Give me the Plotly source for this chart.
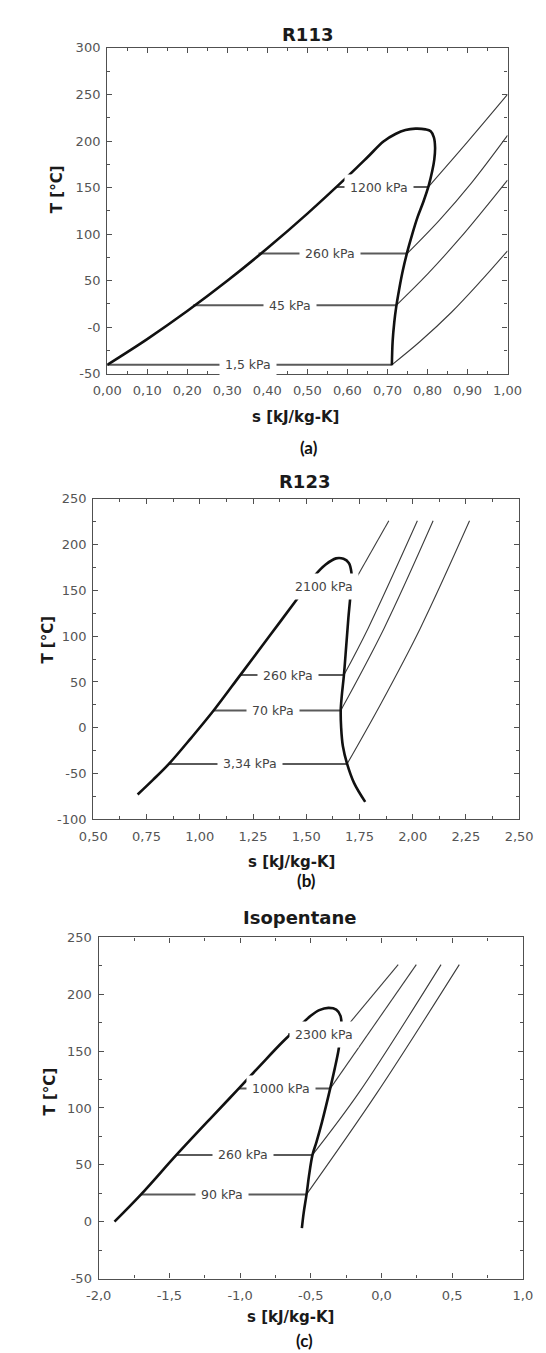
import plotly.graph_objects as go

# ---------------- DATA ----------------
# (a) R113 saturation dome (liquid line, top, vapour line)
dome_s_a = [0.000, 0.100, 0.200, 0.300, 0.400, 0.500, 0.600, 0.650, 0.690, 0.720, 0.745, 0.770,
            0.795, 0.808, 0.816, 0.819, 0.817, 0.812, 0.803, 0.790, 0.775, 0.762, 0.749, 0.738,
            0.729, 0.722, 0.717, 0.713, 0.711]
dome_T_a = [-40.5, -12.8, 17.3, 49.8, 84.7, 122.0, 161.7, 182.5, 199.5, 207.5, 211.8, 213.3,
            212.5, 210.5, 204, 193, 180, 168, 152, 135, 118, 100, 80, 60,
            40, 22, 5, -15, -41]
iso_lab_a = ["1,5 kPa", "45 kPa", "260 kPa", "1200 kPa"]
iso_T_a = [-40.5, 23.5, 79, 150.5]
iso_sliq_a = [0.000, 0.215, 0.378, 0.573]
iso_svap_a = [0.711, 0.722, 0.749, 0.802]
iso_slab_a = [0.352, 0.457, 0.556, 0.680]
sup_s_a = [[0.711, 0.780, 0.860, 0.930, 1.0], [0.722, 0.800, 0.880, 0.940, 1.0],
           [0.749, 0.830, 0.910, 1.0], [0.802, 0.900, 1.0]]
sup_T_a = [[-40.5, -16, 16, 48, 82], [23.5, 57, 95, 126, 158],
           [79, 115, 155, 206], [150.5, 199, 250]]
xt_a = [0.0, 0.1, 0.2, 0.3, 0.4, 0.5, 0.6, 0.7, 0.8, 0.9, 1.0]
xtt_a = ["0,00", "0,10", "0,20", "0,30", "0,40", "0,50", "0,60", "0,70", "0,80", "0,90", "1,00"]
yt_a = [-50, 0, 50, 100, 150, 200, 250, 300]
ytt_a = ["-50", "-0", "50", "100", "150", "200", "250", "300"]

# (b) R123
dome_s_b = [0.708, 0.780, 0.855, 0.960, 1.065, 1.190, 1.330, 1.465, 1.539, 1.590, 1.640, 1.675,
            1.700, 1.712, 1.712, 1.707, 1.698, 1.688, 1.677, 1.667, 1.662, 1.664, 1.672, 1.692,
            1.725, 1.777]
dome_T_b = [-73, -57, -39.5, -11, 18.8, 57.5, 101, 143, 166, 178, 185, 184.5,
            180, 170, 160, 143, 120, 90, 57.5, 35, 18.8, 0, -20, -39.5,
            -60.5, -81]
iso_lab_b = ["3,34 kPa", "70 kPa", "260 kPa", "2100 kPa"]
iso_T_b = [-39.5, 18.8, 57.5, 154]
iso_sliq_b = [0.855, 1.065, 1.190, 1.500]
iso_svap_b = [1.692, 1.662, 1.677, 1.707]
iso_slab_b = [1.235, 1.344, 1.414, 1.583]
sup_s_b = [[1.692, 1.850, 2.036, 2.267], [1.662, 1.866, 2.096], [1.677, 1.791, 2.022], [1.712, 1.888]]
sup_T_b = [[-39.5, 26, 108.8, 226], [18.8, 108.8, 226], [57.5, 108.8, 226], [154, 226]]
xt_b = [0.5, 0.75, 1.0, 1.25, 1.5, 1.75, 2.0, 2.25, 2.5]
xtt_b = ["0,50", "0,75", "1,00", "1,25", "1,50", "1,75", "2,00", "2,25", "2,50"]
yt_b = [-100, -50, 0, 50, 100, 150, 200, 250]
ytt_b = ["-100", "-50", "0", "50", "100", "150", "200", "250"]

# (c) Isopentane
dome_s_c = [-1.888, -1.700, -1.450, -1.200, -1.025, -0.860, -0.700, -0.580, -0.500, -0.440,
            -0.375, -0.320, -0.290, -0.283, -0.290, -0.305, -0.330, -0.363, -0.420, -0.460,
            -0.488, -0.513, -0.530, -0.550, -0.563]
dome_T_c = [0, 24, 58.7, 92, 115, 137, 158, 172, 181, 186,
            188, 186.5, 181, 173, 163, 150, 135, 117, 88, 70,
            58.7, 40, 24, 8, -5.6]
iso_lab_c = ["90 kPa", "260 kPa", "1000 kPa", "2300 kPa"]
iso_T_c = [24, 58.7, 117, 165]
iso_sliq_c = [-1.700, -1.450, -1.010, -0.660]
iso_svap_c = [-0.530, -0.488, -0.363, -0.290]
iso_slab_c = [-1.130, -0.978, -0.710, -0.408]
sup_s_c = [[-0.530, -0.033, 0.550], [-0.488, -0.162, 0.421], [-0.363, 0.246], [-0.290, 0.118]]
sup_T_c = [[24, 113, 226], [58.7, 113, 226], [117, 226], [165, 226]]
xt_c = [-2.0, -1.5, -1.0, -0.5, 0.0, 0.5, 1.0]
xtt_c = ["-2,0", "-1,5", "-1,0", "-0,5", "0,0", "0,5", "1,0"]
yt_c = [-50, 0, 50, 100, 150, 200, 250]
ytt_c = ["-50", "0", "50", "100", "150", "200", "250"]

titles = ["R113", "R123", "Isopentane"]
subcaps = ["(a)", "(b)", "(c)"]
xlabel = "s [kJ/kg-K]"
ylabel = "T [°C]"

# ---------------- LAYOUT (pixel geometry) ----------------
W, H = 546, 1353
boxes = [  # x0, x1, y0(top), y1(bottom) in px
    (89.8, 511.8, 33.3, 362.7),
    (75.2, 524.0, 489.3, 813.3),
    (80.8, 528.0, 932.7, 1277.7),
]
title_pos = [(301, 20), (298, 472), (292, 913)]
xlab_pos = [(288, 407), (284, 856), (283, 1317)]
cap_pos = [(302, 437), (300, 875), (298, 1340)]
ylab_pos = [(37, 176), (27, 632), (29, 1089)]

ranges = [((0, 1), (-50, 300)), ((0.5, 2.5), (-100, 250)), ((-2, 1), (-50, 250))]
minor_dx = [0.05, 0.125, 0.25]
ticks = [(xt_a, xtt_a, yt_a, ytt_a), (xt_b, xtt_b, yt_b, ytt_b), (xt_c, xtt_c, yt_c, ytt_c)]
data = [
    (dome_s_a, dome_T_a, iso_lab_a, iso_T_a, iso_sliq_a, iso_svap_a, iso_slab_a, sup_s_a, sup_T_a),
    (dome_s_b, dome_T_b, iso_lab_b, iso_T_b, iso_sliq_b, iso_svap_b, iso_slab_b, sup_s_b, sup_T_b),
    (dome_s_c, dome_T_c, iso_lab_c, iso_T_c, iso_sliq_c, iso_svap_c, iso_slab_c, sup_s_c, sup_T_c),
]

fig = go.Figure()
annotations = []
AXC = "#505050"
TICKFONT = dict(family="DejaVu Sans", size=13, color="#555555")

for i in range(3):
    xa = "x" if i == 0 else f"x{i+1}"
    ya = "y" if i == 0 else f"y{i+1}"
    xkey = "xaxis" if i == 0 else f"xaxis{i+1}"
    ykey = "yaxis" if i == 0 else f"yaxis{i+1}"
    ds, dT, labs, iT, sl, sv, slab, ss, sT = data[i]
    # superheated isobars
    for k in range(len(ss)):
        fig.add_trace(go.Scatter(x=ss[k], y=sT[k], mode="lines", xaxis=xa, yaxis=ya,
                                 line=dict(color="#3c3c3c", width=1.1, shape="spline", smoothing=1.0),
                                 hoverinfo="skip"))
    # two-phase isobars
    for k in range(len(iT)):
        fig.add_trace(go.Scatter(x=[sl[k], sv[k]], y=[iT[k], iT[k]], mode="lines", xaxis=xa, yaxis=ya,
                                 line=dict(color="#5a5a5a", width=2.0), hoverinfo="skip"))
    # saturation dome
    fig.add_trace(go.Scatter(x=ds, y=dT, mode="lines", xaxis=xa, yaxis=ya,
                             line=dict(color="#111111", width=2.6, shape="spline", smoothing=1.0),
                             hoverinfo="skip"))
    # isobar labels
    for k in range(len(labs)):
        annotations.append(dict(x=slab[k], y=iT[k], xref=xa, yref=ya, text=labs[k], showarrow=False,
                                font=dict(family="DejaVu Sans", size=12.5, color="#444444"),
                                bgcolor="white", borderpad=5, xanchor="center", yanchor="middle"))
    x0, x1, y0, y1 = boxes[i]
    (xr, yr) = ranges[i]
    xt, xtt, yt, ytt = ticks[i]
    common = dict(showline=True, linecolor=AXC, linewidth=1.3, mirror="allticks", ticks="inside",
                  ticklen=5, tickwidth=1.1, tickcolor=AXC, showgrid=False, zeroline=False,
                  tickfont=TICKFONT, tickmode="array")
    fig.layout[xkey] = dict(common, domain=[x0 / W, x1 / W], range=list(xr), anchor=ya,
                            tickvals=xt, ticktext=xtt, ticklabelstandoff=5,
                            minor=dict(dtick=minor_dx[i], tick0=xr[0], ticklen=3, tickcolor=AXC,
                                       ticks="inside", tickwidth=1.0))
    fig.layout[ykey] = dict(common, domain=[1 - y1 / H, 1 - y0 / H], range=list(yr), anchor=xa,
                            tickvals=yt, ticktext=ytt, ticklabelstandoff=3,
                            minor=dict(dtick=25, tick0=yr[0], ticklen=3, tickcolor=AXC,
                                       ticks="inside", tickwidth=1.0))
    # texts
    tx, ty = title_pos[i]
    annotations.append(dict(x=tx / W, y=1 - ty / H, xref="paper", yref="paper", text=f"<b>{titles[i]}</b>",
                            showarrow=False, font=dict(family="DejaVu Sans", size=18, color="#1a1a1a"),
                            xanchor="center", yanchor="middle"))
    lx, ly = xlab_pos[i]
    annotations.append(dict(x=lx / W, y=1 - ly / H, xref="paper", yref="paper", text=f"<b>{xlabel}</b>",
                            showarrow=False, font=dict(family="DejaVu Sans", size=15, color="#1a1a1a"),
                            xanchor="center", yanchor="middle"))
    cx, cy = cap_pos[i]
    annotations.append(dict(x=cx / W, y=1 - cy / H, xref="paper", yref="paper", text=f"<b>{subcaps[i]}</b>",
                            showarrow=False, font=dict(family="Lato", size=17, color="#111111"),
                            xanchor="center", yanchor="middle"))
    yx, yy = ylab_pos[i]
    annotations.append(dict(x=yx / W, y=1 - yy / H, xref="paper", yref="paper", text=f"<b>{ylabel}</b>",
                            showarrow=False, textangle=-90,
                            font=dict(family="DejaVu Sans", size=15, color="#1a1a1a"),
                            xanchor="center", yanchor="middle"))

fig.update_layout(width=W, height=H, margin=dict(l=0, r=0, t=0, b=0), showlegend=False,
                  paper_bgcolor="white", plot_bgcolor="white", annotations=annotations)
fig.write_html("out.html")
